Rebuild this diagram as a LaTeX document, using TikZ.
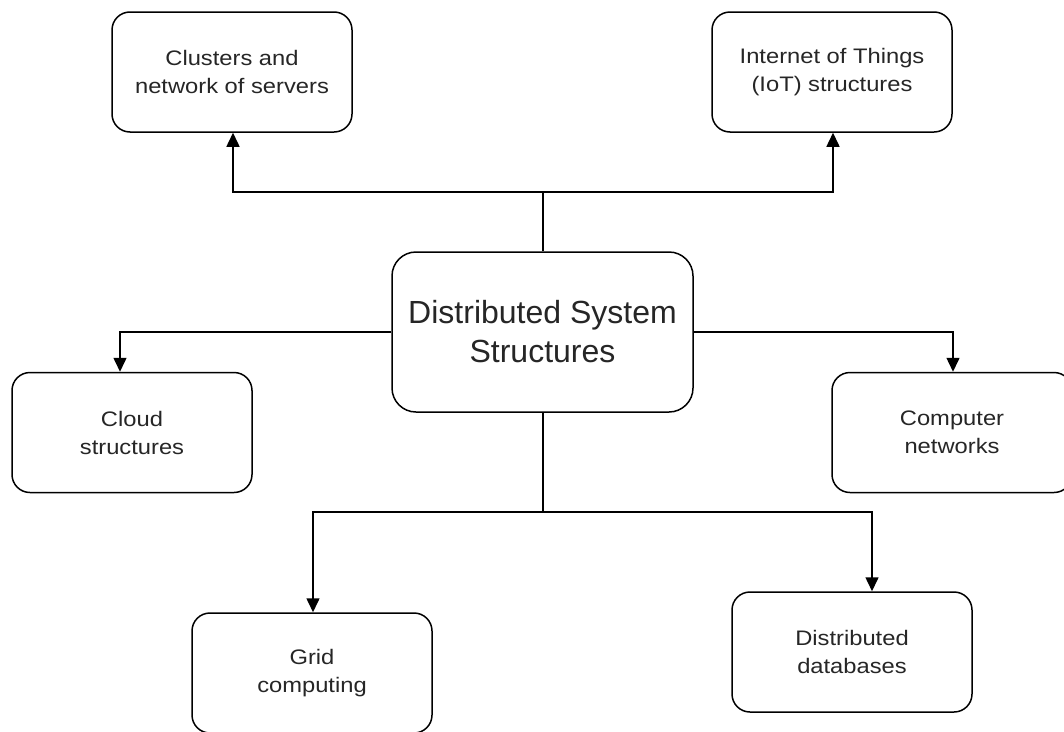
\documentclass[tikz,border=0pt]{standalone}
\usepackage{fontspec}
\setmainfont{Liberation Sans}
\usepackage{graphicx}
\usetikzlibrary{arrows.meta}
\newcommand{\hx}[1]{\scalebox{1.13}[1]{#1}}
\definecolor{txt}{HTML}{262626}
\tikzset{
  smallbox/.style={draw=black, line width=1.5pt, rounded corners=18pt, minimum width=240pt, minimum height=120pt, inner sep=0pt, align=center, text=txt, font=\fontsize{21}{28}\selectfont},
  bigbox/.style={draw=black, line width=1.5pt, rounded corners=24pt, minimum width=301pt, minimum height=160pt, inner sep=0pt, align=center, text=txt, font=\fontsize{32}{39}\selectfont},
  conn/.style={draw=black, line width=1.5pt},
  arr/.style={conn, -{Triangle[length=14pt,width=13pt]}}
}
\begin{document}
\begin{tikzpicture}[x=1pt,y=-1pt]
\useasboundingbox[fill=white] (0,0) rectangle (1064,731);
\node[bigbox] (main) at (542.5,332) {Distributed System\\Structures};
\node[smallbox] (clus) at (232,72) {\hx{Clusters and}\\\hx{network of servers}};
\node[smallbox] (iot) at (832,72) {\hx{Internet of Things}\\\hx{(IoT) structures}};
\node[smallbox] (cloud) at (132,432.5) {\hx{Cloud}\\\hx{structures}};
\node[smallbox] (comp) at (952,432.5) {\hx{Computer}\\\hx{networks}};
\node[smallbox] (grid) at (312,673) {\hx{Grid}\\\hx{computing}};
\node[smallbox] (db) at (852,652) {\hx{Distributed}\\\hx{databases}};
\coordinate (t) at (543,192);
\coordinate (b) at (543,512);
\draw[conn] (main.north -| t) -- (t);
\draw[arr] (t) -| ([xshift=1pt]clus.south);
\draw[arr] (t) -| ([xshift=1pt]iot.south);
\draw[arr] (main.west) -| ([xshift=-12pt]cloud.north);
\draw[arr] (main.east) -| ([xshift=1pt]comp.north);
\draw[conn] (main.south -| b) -- (b);
\draw[arr] (b) -| ([xshift=1pt]grid.north);
\draw[arr] (b) -| ([xshift=20pt]db.north);
\end{tikzpicture}
\end{document}
